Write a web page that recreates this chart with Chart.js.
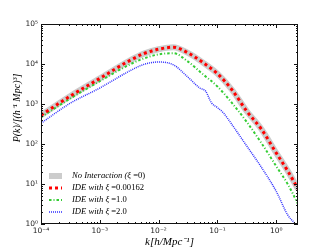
<!DOCTYPE html>
<html>
<head>
<meta charset="utf-8">
<script src="https://cdn.jsdelivr.net/npm/chart.js@4.4.1/dist/chart.umd.min.js"></script>
<style>
  html,body{margin:0;padding:0;background:#fff}
</style>
</head>
<body>
<canvas id="chartPk" width="332" height="249"></canvas>
<script>
// k grid (h/Mpc) and P(k) values
const kGrid = [1e-4, 3.16e-4, 1e-3, 3.16e-3, 5.62e-3, 0.01, 0.0178, 0.0316, 0.0562, 0.1, 0.178, 0.316, 0.562, 1.0, 1.58, 2.34];
const pNoInteraction = [525, 1585, 4365, 12000, 18200, 23400, 26300, 19000, 11000, 5750, 2240, 660, 234, 60, 21, 7.6];
const pXi00162      = [525, 1585, 4365, 12000, 18200, 23400, 26300, 19000, 11000, 5750, 2240, 660, 234, 60, 21, 7.6];
const pXi1          = [468, 1380, 3715, 9550, 13800, 17400, 18600, 11500, 5620, 2750, 1050, 355, 105, 28, 9.8, 3.2];
const kXi2 = [1e-4, 3.16e-4, 1e-3, 3.16e-3, 5.62e-3, 0.01, 0.0178, 0.0316, 0.0501, 0.0631, 0.0794, 0.1, 0.126, 0.178, 0.316, 0.562, 1.0, 1.58, 2.14];
const pXi2 = [331, 1050, 2510, 6610, 9770, 11200, 9550, 4680, 2510, 2090, 1070, 813, 603, 302, 89, 26, 6.6, 1.66, 1.0];

const seriesLabels = ['No Interaction (ξ =0)', 'IDE with ξ =0.00162', 'IDE with ξ =1.0', 'IDE with ξ =2.0'];
const xRange = [1e-4, 2.35];
const yRange = [1, 1e5];

const SUP = {'-':'⁻','0':'⁰','1':'¹','2':'²','3':'³','4':'⁴','5':'⁵'};
function isDecade(v){const e=Math.log10(v);return Math.abs(e-Math.round(e))<1e-9;}
function powLabel(v){
  if(!isDecade(v)) return '';
  return '10'+String(Math.round(Math.log10(v))).split('').map(c=>SUP[c]).join('');
}
const pts = (ks,ps)=>ks.map((k,i)=>({x:k,y:ps[i]}));

// frame, inward ticks on all four sides, y title and legend (matplotlib look)
const mplDecor = {
  id:'mplDecor',
  afterDraw(chart){
    const {ctx, chartArea:a, scales:{x,y}} = chart;
    ctx.save();
    ctx.strokeStyle='#111'; ctx.lineWidth=1; ctx.setLineDash([]);
    ctx.strokeRect(a.left+.5, a.top+.5, a.right-a.left-1, a.bottom-a.top-1);

    const tickSet = (sc,lo,hi)=>{
      const out=[];
      for(let e=Math.floor(Math.log10(lo));e<=Math.ceil(Math.log10(hi));e++)
        for(let m=1;m<10;m++){const v=m*Math.pow(10,e); if(v>=lo*0.999&&v<=hi*1.001) out.push({p:Math.round(sc.getPixelForValue(v))+.5,major:m===1});}
      return out;
    };
    ctx.beginPath();
    tickSet(x,xRange[0],xRange[1]).forEach(t=>{
      const L=t.major?4:2;
      ctx.moveTo(t.p,a.bottom); ctx.lineTo(t.p,a.bottom-L);
      ctx.moveTo(t.p,a.top); ctx.lineTo(t.p,a.top+L);
    });
    tickSet(y,yRange[0],yRange[1]).forEach(t=>{
      const L=t.major?4:2;
      ctx.moveTo(a.left,t.p); ctx.lineTo(a.left+L,t.p);
      ctx.moveTo(a.right,t.p); ctx.lineTo(a.right-L,t.p);
    });
    ctx.stroke();

    // y axis title
    ctx.save();
    ctx.translate(17,108); ctx.rotate(-Math.PI/2);
    ctx.fillStyle='#000'; ctx.font='italic 10px "Liberation Serif"';
    ctx.textAlign='center'; ctx.textBaseline='middle';
    ctx.fillText('P(k)/[(h⁻¹ Mpc)³]',0,0);
    ctx.restore();

    // legend, lower left inside the axes
    chart.data.datasets.forEach((ds,i)=>{
      const ly = a.bottom-48+i*12;
      ctx.beginPath();
      ctx.strokeStyle=ds.borderColor; ctx.lineWidth=ds.borderWidth;
      ctx.setLineDash(ds.borderDash||[]);
      ctx.moveTo(a.left+8,ly); ctx.lineTo(a.left+21,ly); ctx.stroke();
      ctx.setLineDash([]);
      const cut = ds.label.indexOf('=');
      const head = ds.label.slice(0,cut), tail = ds.label.slice(cut);
      ctx.fillStyle='#000'; ctx.textBaseline='middle'; ctx.textAlign='left';
      ctx.font='italic 8.6px "Liberation Serif"';
      ctx.fillText(head,a.left+31,ly);
      const w = ctx.measureText(head).width;
      ctx.font='8.6px "Liberation Serif"';
      ctx.fillText(tail,a.left+31+w,ly);
    });
    ctx.restore();
  }
};

new Chart(document.getElementById('chartPk'),{
  type:'line',
  data:{datasets:[
    {label:seriesLabels[0],data:pts(kGrid,pNoInteraction),borderColor:'#cccccc',borderWidth:6,order:1},
    {label:seriesLabels[1],data:pts(kGrid,pXi00162),borderColor:'#ff0000',borderWidth:3,borderDash:[3,3],order:0},
    {label:seriesLabels[2],data:pts(kGrid,pXi1),borderColor:'#33cc33',borderWidth:2,borderDash:[2.5,2,1,2],order:0},
    {label:seriesLabels[3],data:pts(kXi2,pXi2),borderColor:'#3030ff',borderWidth:1.5,borderDash:[1,1],order:0}
  ]},
  options:{
    responsive:false,animation:false,
    layout:{padding:{left:0,top:24,right:34,bottom:0}},
    elements:{point:{radius:0},line:{cubicInterpolationMode:'monotone',fill:false}},
    plugins:{legend:{display:false},tooltip:{enabled:false}},
    scales:{
      x:{type:'logarithmic',min:xRange[0],max:xRange[1],
        grid:{display:false,drawTicks:false},border:{display:false},
        ticks:{autoSkip:false,maxRotation:0,padding:3,color:'#222',font:{family:'DejaVu Sans',size:7.5},callback:v=>powLabel(v)},
        title:{display:true,text:'k[h/Mpc⁻¹]',color:'#000',font:{family:'Liberation Serif',size:11,style:'italic'},padding:{top:0,bottom:0}},
        afterFit(s){s.height=25;}},
      y:{type:'logarithmic',min:yRange[0],max:yRange[1],
        grid:{display:false,drawTicks:false},border:{display:false},
        ticks:{autoSkip:false,padding:3,color:'#222',font:{family:'DejaVu Sans',size:7.5},callback:v=>powLabel(v)},
        afterFit(s){s.width=41;}}
    }
  },
  plugins:[mplDecor]
});
</script>
</body>
</html>
